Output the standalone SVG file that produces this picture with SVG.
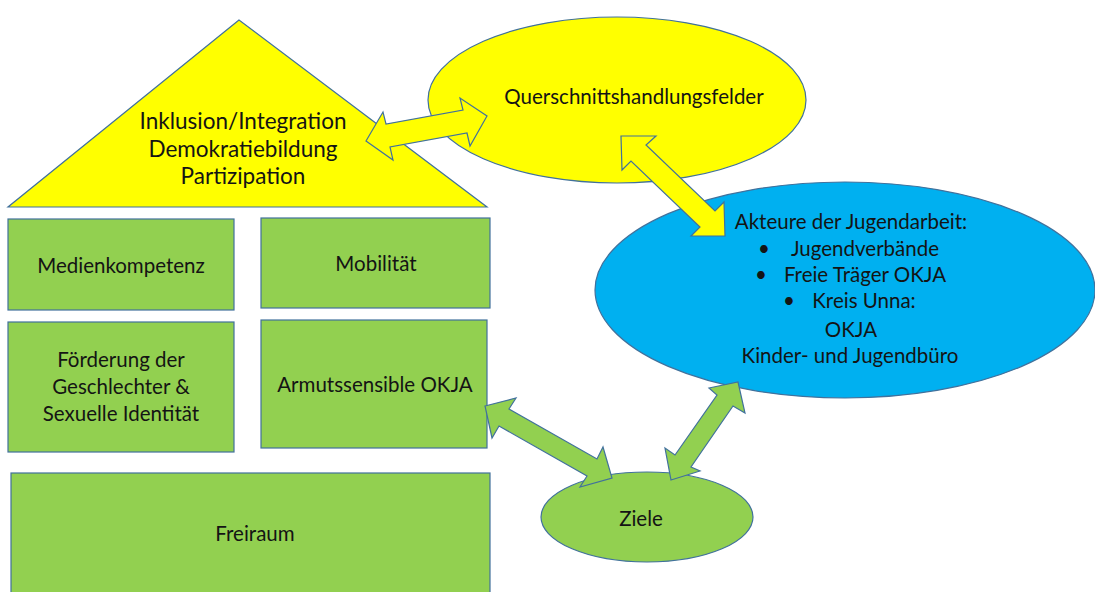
<svg xmlns="http://www.w3.org/2000/svg" width="1095" height="592" viewBox="0 0 1095 592">
<style>
.sh{stroke:#41719C;stroke-width:1.2}
.y{fill:#FFFF00}
.g{fill:#92D050}
.b{fill:#00B0F0}
text{font-family:Lato,"Liberation Sans",sans-serif;fill:#141414;text-anchor:middle}
.t18{font-size:20.5px}
.t21{font-size:22.5px}
</style>
<rect width="1095" height="592" fill="#fff"/>
<g id="dach">
<polygon class="sh y" points="239,20 8,207 487,207"/>
<text class="t21" x="243" y="129">Inklusion/Integration</text>
<text class="t21" x="243" y="157">Demokratiebildung</text>
<text class="t21" x="243" y="184">Partizipation</text>
</g>
<g id="querschnitt">
<ellipse class="sh y" cx="617" cy="100" rx="189" ry="83"/>
<text class="t18" x="634" y="104">Querschnittshandlungsfelder</text>
</g>
<g id="akteure">
<ellipse class="sh b" cx="845" cy="290" rx="250" ry="108"/>
<text class="t18" x="851" y="229">Akteure der Jugendarbeit:</text>
<text class="t18" x="764" y="256">•</text>
<text class="t18" x="865" y="256">Jugendverbände</text>
<text class="t18" x="761" y="282">•</text>
<text class="t18" x="865" y="282">Freie Träger OKJA</text>
<text class="t18" x="789" y="308">•</text>
<text class="t18" x="864" y="308">Kreis Unna:</text>
<text class="t18" x="851" y="337">OKJA</text>
<text class="t18" x="850" y="363">Kinder- und Jugendbüro</text>
</g>
<g id="medienkompetenz">
<rect class="sh g" x="8" y="219" width="226" height="91"/>
<text class="t18" x="121" y="273">Medienkompetenz</text>
</g>
<g id="mobilitaet">
<rect class="sh g" x="261" y="218" width="229" height="90"/>
<text class="t18" x="376" y="271">Mobilität</text>
</g>
<g id="foerderung">
<rect class="sh g" x="8" y="322" width="226" height="130"/>
<text class="t18" x="121" y="367">Förderung der</text>
<text class="t18" x="121" y="394">Geschlechter &amp;</text>
<text class="t18" x="121" y="421">Sexuelle Identität</text>
</g>
<g id="armut">
<rect class="sh g" x="261" y="320" width="226" height="128"/>
<text class="t18" x="375" y="392">Armutssensible OKJA</text>
</g>
<g id="freiraum">
<rect class="sh g" x="11" y="473" width="479" height="125"/>
<text class="t18" x="255" y="541">Freiraum</text>
</g>
<g id="ziele">
<ellipse class="sh g" cx="647" cy="517" rx="106" ry="45"/>
<text class="t18" x="641" y="526">Ziele</text>
</g>
<g id="connectors">
<polygon class="sh y" points="366,141 393,160 390,147 467,133 470,146 487,116 460,98 463,110 386,124 383,112"/>
<polygon class="sh y" points="621,136 656,136 646,145 715,211 724,202 725,236 691,236 700,227 631,161 622,170"/>
<polygon class="sh g" points="485,406 516,398 509,409 597,459 603,447 612,478 580,487 587,476 499,426 492,438"/>
<polygon class="sh g" points="671,480 700,471 691,467 733,406 745,413 738,382 709,388 717,395 675,455 665,448"/>
</g>
</svg>
